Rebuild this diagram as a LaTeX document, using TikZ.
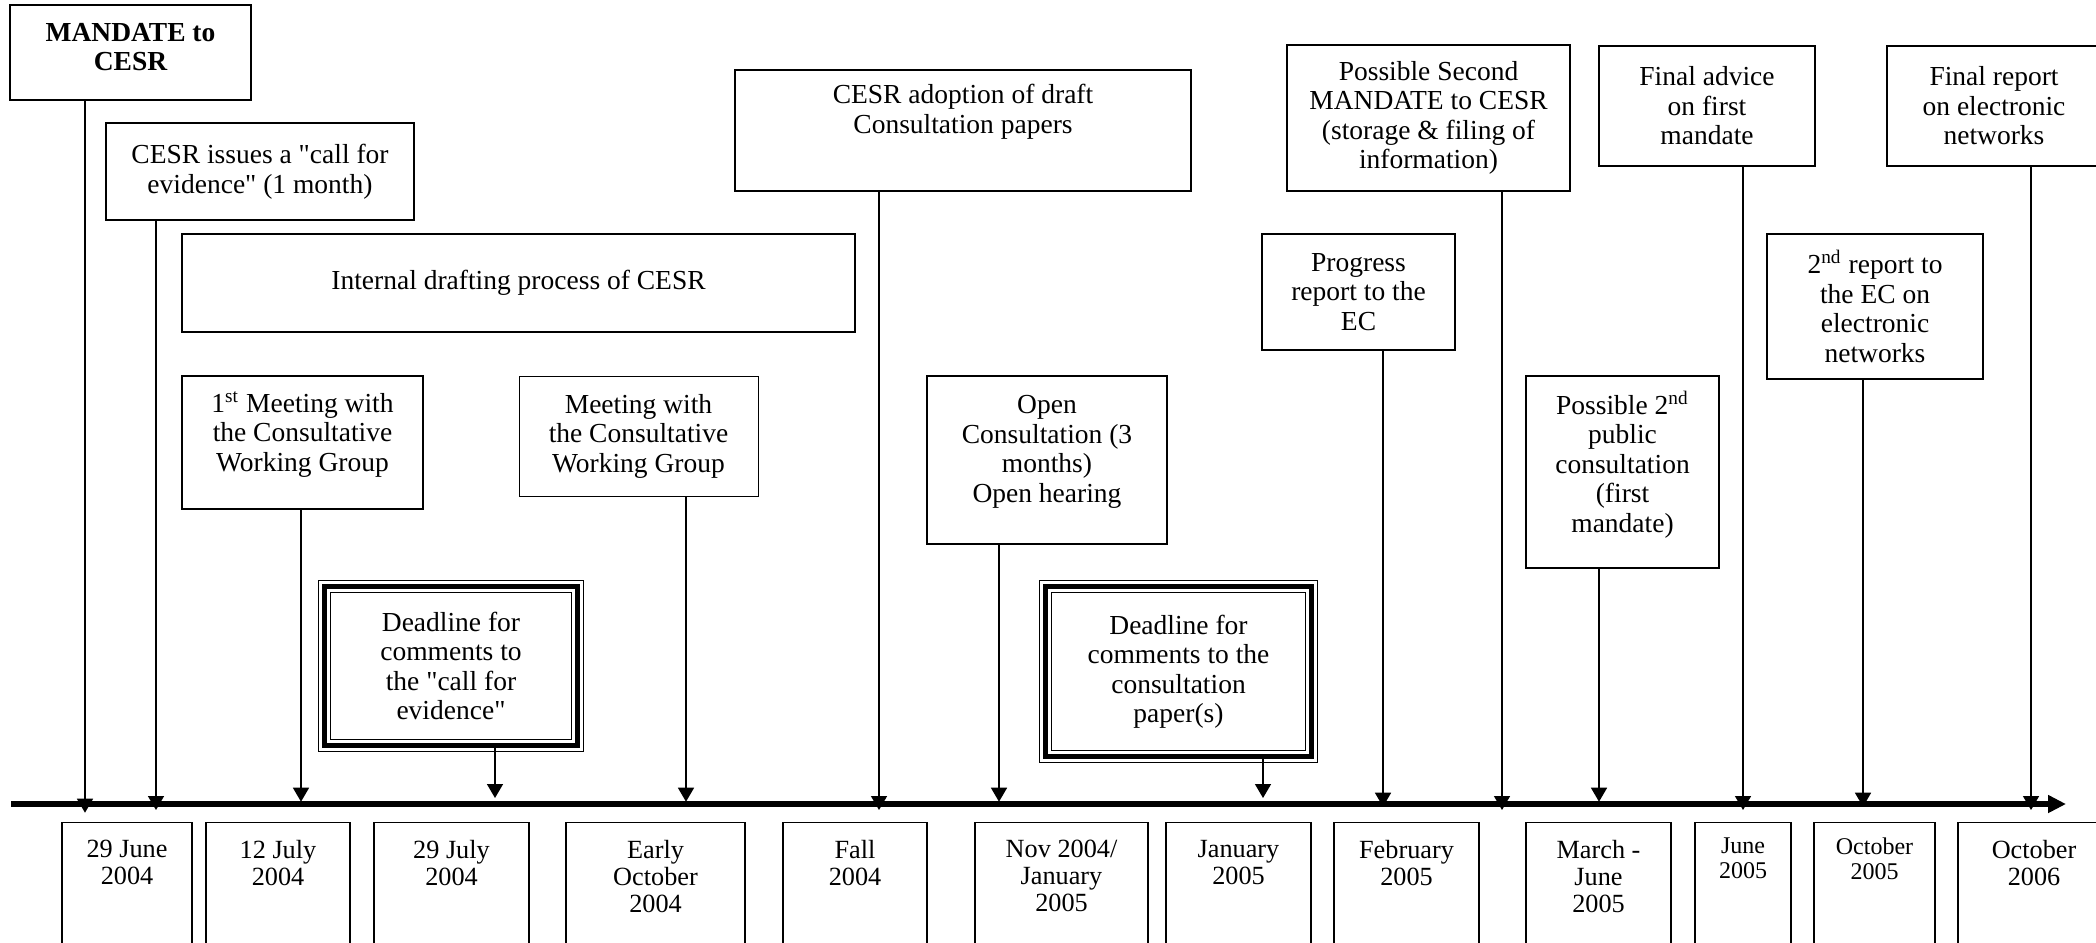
\documentclass[tikz,border=0pt]{standalone}
\usepackage{fontspec}
\setmainfont{Liberation Serif}
\usetikzlibrary{arrows.meta}

\newcommand\evfont{\fontsize{11}{11.8}\selectfont}
\newcommand\datefont{\fontsize{10.5}{10.8}\selectfont}
\newcommand\smalldatefont{\fontsize{9.6}{10}\selectfont}

\tikzset{
  evbox/.style={draw, line width=0.7pt, align=center, inner sep=0pt, font=\evfont},
  boxsize/.style 2 args={minimum width=#1*0.4pt, minimum height=#2*0.4pt},
  tripleframe/.style={preaction={draw, line width=0.5pt, double=white, double distance=4.2pt},
    draw, line width=1.8pt, align=center, inner sep=0pt, font=\evfont},
  datebox/.style={draw, line width=0.55pt, anchor=north, align=center, inner xsep=0pt,
    inner ysep=7pt, text depth=60pt, font=\datefont},
  smalldate/.style={datebox, inner ysep=5.9pt, font=\smalldatefont},
  evarrow/.style={line width=0.6pt, -{Triangle[length=5.6pt, width=6.4pt]}},
  timeline/.style={line width=2.1pt, -{Triangle[length=7.2pt, width=6.8pt]}}
}

\begin{document}
\begin{tikzpicture}[x=0.4pt, y=-0.4pt]
\useasboundingbox (0,0) rectangle (2096,942);
\clip (0,0) rectangle (2096,942);

\node[evbox, boxsize={241}{95}, font=\evfont\bfseries, text depth=4.4pt] (mandate)
  at (130.5,52.5) {MANDATE to\\CESR};
\node[evbox, boxsize={308}{97}] (callev)
  at (260,171.5) {CESR issues a \textquotedbl call for\\evidence\textquotedbl{} (1 month)};
\node[evbox, boxsize={673}{98}] (drafting)
  at (518.5,283) {Internal drafting process of CESR};
\node[evbox, boxsize={241}{133}, text depth=8.8pt] (meet1)
  at (302.5,442.5) {1\textsuperscript{st} Meeting with\\the Consultative\\Working Group};
\node[evbox, boxsize={239}{120}, line width=0.4pt] (meet2)
  at (638.5,436) {Meeting with\\the Consultative\\Working Group};
\node[tripleframe, boxsize={253}{159}] (deadl1)
  at (451,666) {Deadline for\\comments to\\the \textquotedbl call for\\evidence\textquotedbl};
\node[evbox, boxsize={456}{121}, text depth=17.2pt] (adopt)
  at (963,130.5) {CESR adoption of draft\\Consultation papers};
\node[evbox, boxsize={240}{168}, text depth=8.8pt] (open)
  at (1047,460) {Open\\Consultation (3\\months)\\Open hearing};
\node[tripleframe, boxsize={266}{170}] (deadl2)
  at (1178.5,671.5) {Deadline for\\comments to the\\consultation\\paper(s)};
\node[evbox, boxsize={283}{146}] (possec)
  at (1428.5,118) {Possible Second\\MANDATE to CESR\\(storage \& filing of\\information)};
\node[evbox, boxsize={193}{116}] (progress)
  at (1358.5,292) {Progress\\report to the\\EC};
\node[evbox, boxsize={216}{120}] (final1)
  at (1707,106) {Final advice\\on first\\mandate};
\node[evbox, boxsize={214}{120}] (final2)
  at (1994,106) {Final report\\on electronic\\networks};
\node[evbox, boxsize={216}{145}] (report2)
  at (1875,306.5) {2\textsuperscript{nd} report to\\the EC on\\electronic\\networks};
\node[evbox, boxsize={193}{192}, text depth=8.4pt] (poss2)
  at (1622.5,472) {Possible 2\textsuperscript{nd}\\public\\consultation\\(first\\mandate)};

\node[datebox, boxsize={130}{0}] (d1) at (127,822) {29 June\\2004};
\node[datebox, boxsize={144}{0}] (d2) at (278,822) {12 July\\2004};
\node[datebox, boxsize={155}{0}] (d3) at (451.5,822) {29 July\\2004};
\node[datebox, boxsize={179}{0}] (d4) at (655.5,822) {Early\\October\\2004};
\node[datebox, boxsize={144}{0}] (d5) at (855,822) {Fall\\2004};
\node[datebox, boxsize={173}{0}] (d6) at (1061.5,822) {Nov 2004/\\January\\2005};
\node[datebox, boxsize={145}{0}] (d7) at (1238.5,822) {January\\2005};
\node[datebox, boxsize={145}{0}] (d8) at (1406.5,822) {February\\2005};
\node[datebox, boxsize={145}{0}] (d9) at (1598.5,822) {March -\\June\\2005};
\node[smalldate, boxsize={96}{0}] (d10) at (1743,822) {June\\2005};
\node[smalldate, boxsize={121}{0}] (d11) at (1874.5,822) {October\\2005};
\node[datebox, boxsize={152}{0}] (d12) at (2034,822) {October\\2006};

\coordinate (tstart) at (11,804);
\coordinate (tend) at (2066,804);
\draw[timeline] (tstart) -- (tend);

\coordinate (tmandate) at (85,812.7);
\coordinate (tcallev) at (156,810);
\coordinate (tmeet1) at (301,801.7);
\coordinate (tdeadl1) at (495,798);
\coordinate (tmeet2) at (686,801.7);
\coordinate (tadopt) at (879,810);
\coordinate (topen) at (999,801.7);
\coordinate (tdeadl2) at (1263,798);
\coordinate (tprogress) at (1383,806.7);
\coordinate (tpossec) at (1502,810);
\coordinate (tposs2) at (1599,801.7);
\coordinate (tfinal1) at (1743,810);
\coordinate (treport2) at (1863,806.7);
\coordinate (tfinal2) at (2031,810);

\draw[evarrow] (mandate.south -| tmandate) -- (tmandate);
\draw[evarrow] (callev.south -| tcallev) -- (tcallev);
\draw[evarrow] (meet1.south -| tmeet1) -- (tmeet1);
\draw[evarrow] (deadl1.south -| tdeadl1) -- (tdeadl1);
\draw[evarrow] (meet2.south -| tmeet2) -- (tmeet2);
\draw[evarrow] (adopt.south -| tadopt) -- (tadopt);
\draw[evarrow] (open.south -| topen) -- (topen);
\draw[evarrow] (deadl2.south -| tdeadl2) -- (tdeadl2);
\draw[evarrow] (progress.south -| tprogress) -- (tprogress);
\draw[evarrow] (possec.south -| tpossec) -- (tpossec);
\draw[evarrow] (poss2.south -| tposs2) -- (tposs2);
\draw[evarrow] (final1.south -| tfinal1) -- (tfinal1);
\draw[evarrow] (report2.south -| treport2) -- (treport2);
\draw[evarrow] (final2.south -| tfinal2) -- (tfinal2);
\end{tikzpicture}
\end{document}
